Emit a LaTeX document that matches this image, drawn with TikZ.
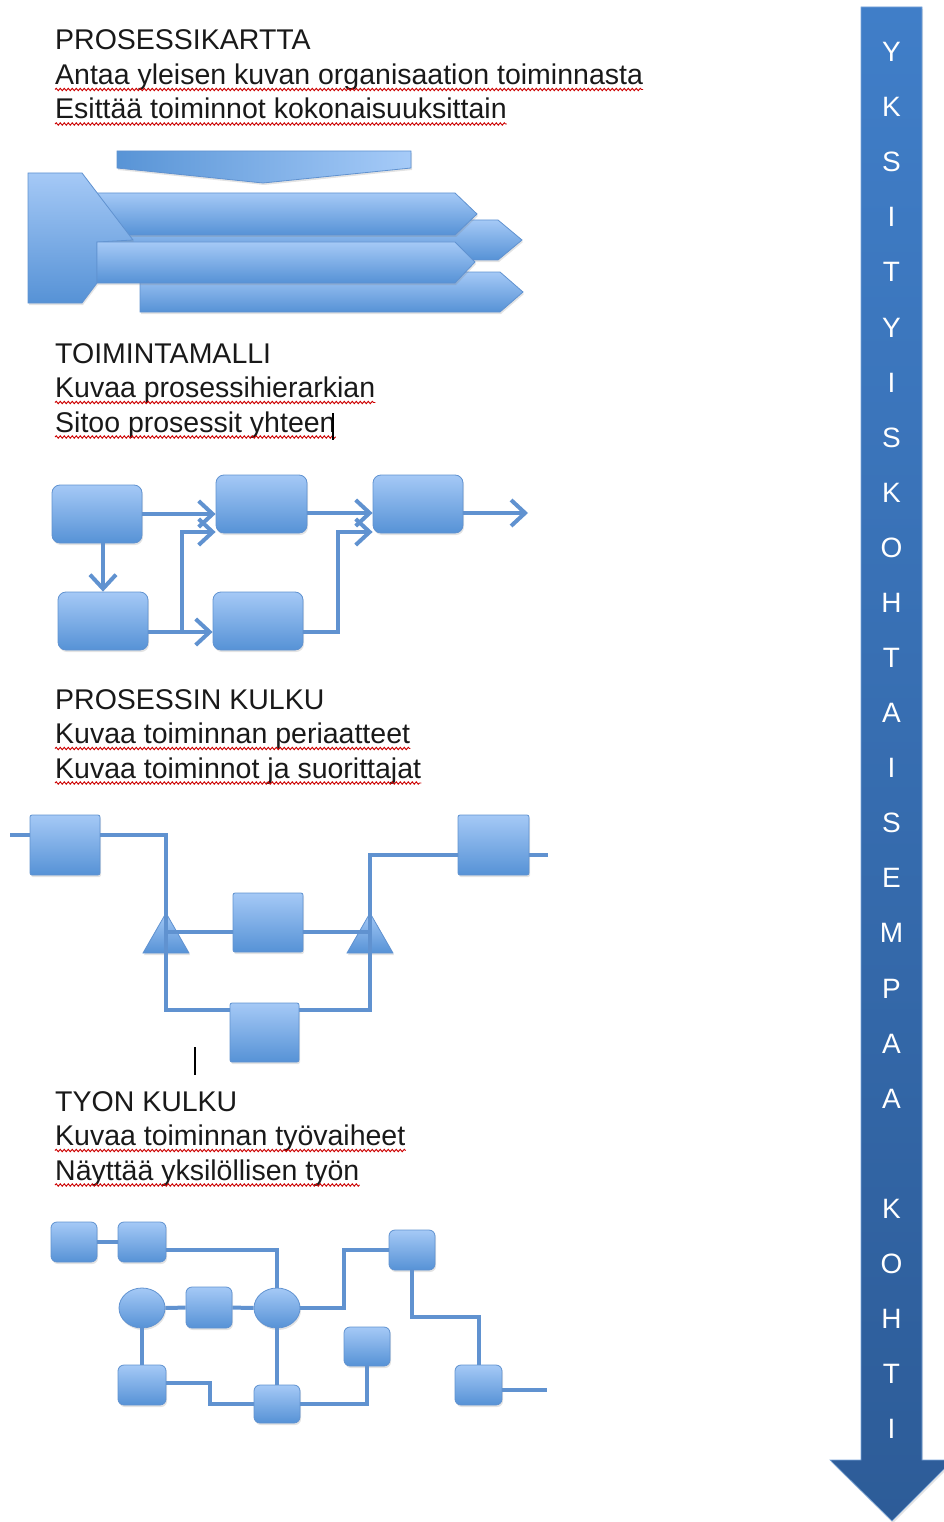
\documentclass[tikz,border=0pt]{standalone}
\usepackage{fontspec}
\setmainfont{Liberation Sans}
\usetikzlibrary{arrows.meta,shapes.geometric,shadows,decorations.pathmorphing}
\definecolor{boxtop}{RGB}{165,201,246}
\definecolor{boxbot}{RGB}{86,146,214}
\definecolor{boxline}{RGB}{96,146,208}
\definecolor{linec}{RGB}{96,146,208}
\definecolor{barl}{RGB}{88,148,214}
\definecolor{barr}{RGB}{166,203,248}
\definecolor{arrtop}{RGB}{64,126,200}
\definecolor{arrbot}{RGB}{45,92,152}

\begin{document}
\begin{tikzpicture}[x=1pt,y=-1pt,
    txt/.style={anchor=base west,inner sep=0pt,text=black!90,font=\fontsize{28.5}{34}\selectfont},
    squig/.style={draw=red!80!black,line width=0.9pt,decorate,decoration={snake,amplitude=1.2pt,segment length=4pt}},
    boxfill/.style={top color=boxtop,bottom color=boxbot,draw=boxline,line width=0.8pt},
    shad/.style={drop shadow={opacity=0.22,shadow xshift=1pt,shadow yshift=-2pt}},
    chev/.style={boxfill,shad},
    rbox/.style={boxfill,shad,rounded corners=8pt,inner sep=0pt,minimum width=90pt,minimum height=58pt},
    sq/.style={boxfill,shad,rounded corners=2pt,inner sep=0pt,minimum width=70pt,minimum height=60pt},
    wbox/.style={boxfill,shad,rounded corners=6pt,inner sep=0pt,minimum width=46pt,minimum height=40pt},
    wcirc/.style={boxfill,shad,ellipse,inner sep=0pt,minimum width=46pt,minimum height=40pt},
    flow/.style={draw=linec,line width=4pt,-{Straight Barb[length=14pt,width=26pt,line width=4pt]}},
    link/.style={draw=linec,line width=4pt},
    vlet/.style={text=white,inner sep=0pt,font=\fontsize{28}{28}\selectfont}]
\useasboundingbox (0,0) rectangle (944,1522);

% texts
\foreach \n/\y/\h/\a/\b in {1/50/PROSESSIKARTTA/Antaa yleisen kuvan organisaation toiminnasta/Esittää toiminnot kokonaisuuksittain,
    2/363/TOIMINTAMALLI/Kuvaa prosessihierarkian/Sitoo prosessit yhteen,
    3/709/PROSESSIN KULKU/Kuvaa toiminnan periaatteet/Kuvaa toiminnot ja suorittajat,
    4/1111/TYON KULKU/Kuvaa toiminnan työvaiheet/Näyttää yksilöllisen työn}
{
    \node[txt] (h\n) at (55,\y) {\h};
    \node[txt] (a\n) at (55,{\y+34.5}) {\a};
    \node[txt] (b\n) at (55,{\y+69}) {\b};
    \draw[squig] ([yshift=-5pt]a\n.base west) -- ([yshift=-5pt]a\n.base east);
    \draw[squig] ([yshift=-5pt]b\n.base west) -- ([yshift=-5pt]b\n.base east);
}
\draw[line width=1.6pt] (333,413) -- (333,440);
\draw[line width=2pt] (195,1047) -- (195,1075);

% prosessikartta
\path[boxfill,shad,top color=barl,bottom color=barl,left color=barl,right color=barr]
    (117,151) -- (411,151) -- (411,168) -- (263,183) -- (117,168) -- cycle;
\path[chev] (100,220) -- (498,220) -- (522,240) -- (498,260) -- (100,260) -- cycle;
\path[chev] (140,272) -- (500,272) -- (523,292) -- (500,312) -- (140,312) -- cycle;
\path[chev] (90,193) -- (455,193) -- (477,214) -- (455,235) -- (90,235) -- cycle;
\path[chev] (28,173) -- (82,173) -- (133,240) -- (97,242) -- (97,283) -- (82,303) -- (28,303) -- cycle;
\path[chev] (97,242) -- (455,242) -- (475,262) -- (455,283) -- (97,283) -- cycle;

% toimintamalli
\node[rbox] (A) at (97,514) {};
\node[rbox,minimum width=91pt] (B) at (261.5,504) {};
\node[rbox] (C) at (418,504) {};
\node[rbox] (D) at (103,621) {};
\node[rbox] (E) at (258,621) {};
\coordinate (j1) at ([xshift=34pt,yshift=-11pt]D.east);
\coordinate (out) at (528,513);
\draw[flow] (A.east) -- (A.east -| B.west);
\draw[flow] ([yshift=-9pt]B.east) -- ([yshift=-9pt]C.west);
\draw[flow] ([yshift=-9pt]C.east) -- (out);
\draw[flow] (A.south -| D.north) -- (D.north);
\draw[flow] ([yshift=-11pt]D.east) -- ([yshift=-11pt]E.west);
\draw[flow] (j1) |- ([yshift=-28pt]B.west);
\draw[flow] ([yshift=-11pt]E.east) -- ++(35,0) |- ([yshift=-28pt]C.west);

% prosessin kulku
\node[sq] (p1) at (65,845) {};
\node[sq,minimum height=59pt] (p2) at (268,922.5) {};
\node[sq,minimum width=69pt,minimum height=59pt] (p3) at (264.5,1032.5) {};
\node[sq,minimum width=71pt] (p4) at (493.5,845) {};
\coordinate (g1) at (166,932);
\coordinate (g2) at (370,932);
\coordinate (inL) at (10,835);
\coordinate (outR) at (548,855);
\path[boxfill,shad] (166,913) -- (189,953) -- (143,953) -- cycle;
\path[boxfill,shad] (370,913) -- (393,953) -- (347,953) -- cycle;
\draw[link] (inL) -- ([yshift=10pt]p1.west);
\draw[link] ([yshift=10pt]p1.east) -| (g1) |- ([yshift=22.5pt]p3.west);
\draw[link] ([yshift=22.5pt]p3.east) -| (g2) |- ([yshift=-10pt]p4.west);
\draw[link] (g1) -- ([yshift=-9.5pt]p2.west);
\draw[link] ([yshift=-9.5pt]p2.east) -- (g2);
\draw[link] ([yshift=-10pt]p4.east) -- (outR);

% tyon kulku
\node[wbox] (w1) at (74,1242) {};
\node[wbox,minimum width=48pt] (w2) at (142,1242) {};
\node[wcirc] (c1) at (142,1308) {};
\node[wbox,minimum height=41pt] (w3) at (209,1307.5) {};
\node[wcirc] (c2) at (277,1308) {};
\node[wbox] (w4) at (412,1250) {};
\node[wbox,minimum height=39pt] (w5) at (367,1346.5) {};
\node[wbox,minimum height=38pt] (w6) at (277,1404) {};
\node[wbox,minimum width=47pt] (w7) at (478.5,1385) {};
\node[wbox,minimum width=48pt] (w8) at (142,1385) {};
\coordinate (wout) at (547,1390);
\draw[link] (w1) -- (w2);
\draw[link] ([yshift=-8pt]w2.east) -| (c2.north);
\draw[link] (c1) -- (w3);
\draw[link] (w3) -- (c2);
\draw[link] (c2.east) -- ++(44,0) |- (w4.west);
\draw[link] (w4.south) -- ++(0,47) -| (w7.north);
\draw[link] (c1.south) -- (w8.north);
\draw[link] ([yshift=2pt]w8.east) -- ++(44,0) |- (w6.west);
\draw[link] (c2.south) -- (w6.north);
\draw[link] (w6.east) -| (w5.south);
\draw[link] ([yshift=-5pt]w7.east) -- (wout);

% iso nuoli
\path[shad,top color=arrtop,bottom color=arrbot,draw=arrtop!70!white,line width=0.6pt]
    (861,7) -- (922,7) -- (922,1460) -- (953,1460) -- (892,1521) -- (830,1460) -- (861,1460) -- cycle;
\foreach \ch [count=\i] in {Y,K,S,I,T,Y,I,S,K,O,H,T,A,I,S,E,M,P,A,A,{},K,O,H,T,I}
{
    \node[vlet] (l\i) at (891.5,{52+(\i-1)*55.08}) {\ch};
}
\end{tikzpicture}
\end{document}
